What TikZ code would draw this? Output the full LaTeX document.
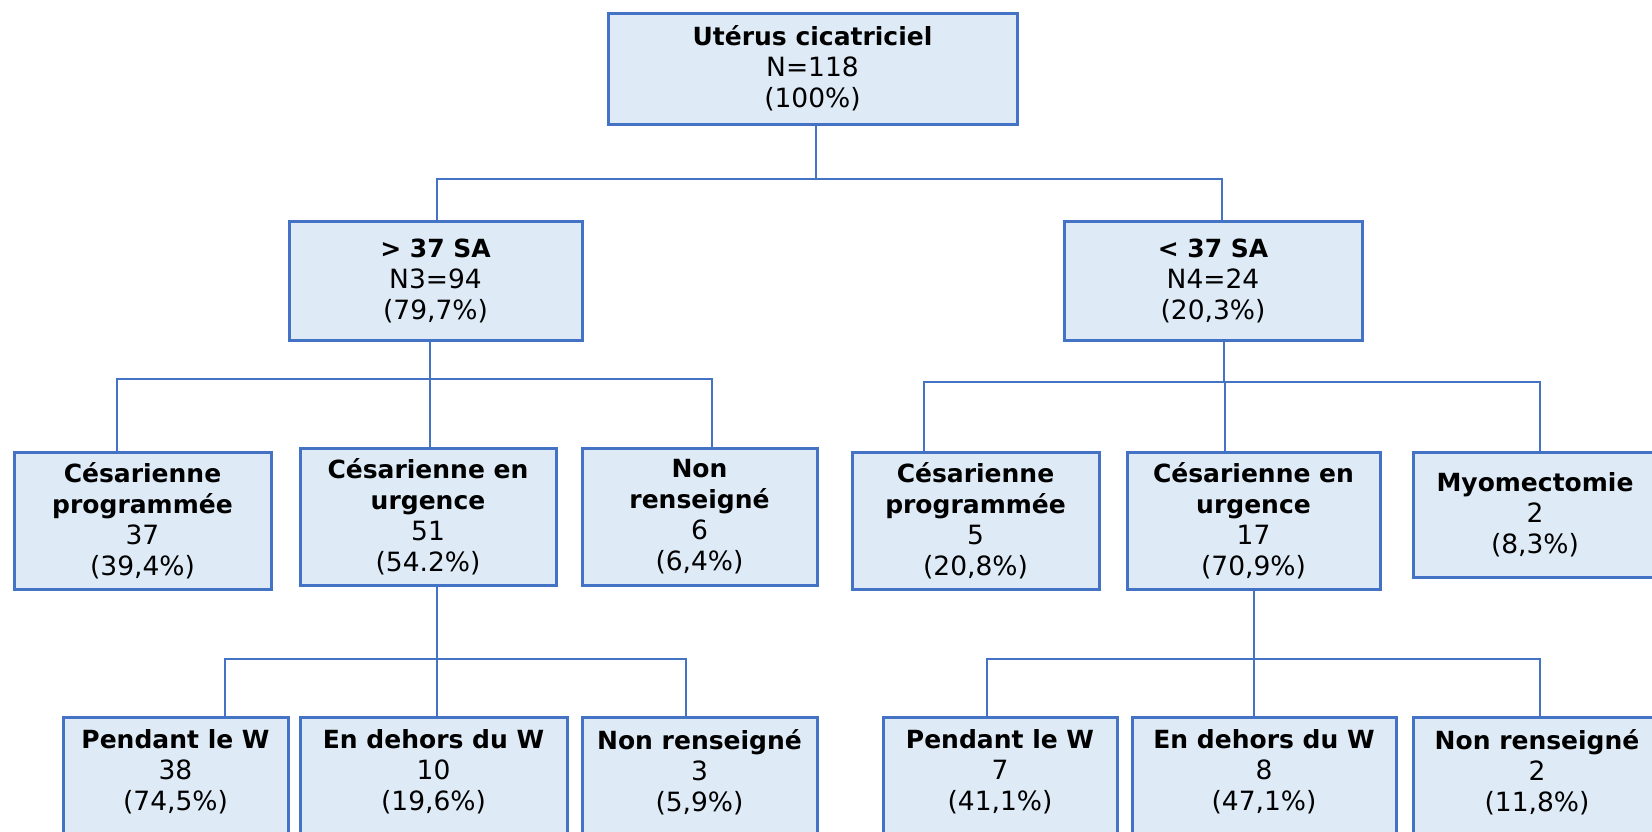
\documentclass[tikz,border=0pt]{standalone}
\usepackage{fontspec}
\setmainfont{DejaVu Sans}

\definecolor{boxline}{HTML}{4472C4}
\definecolor{boxfill}{HTML}{DEEBF7}

\newcommand{\hd}[1]{{\fontsize{12.5}{15.5}\selectfont\bfseries #1}}

\begin{document}
\begin{tikzpicture}[x=0.5pt, y=-0.5pt,
    box/.style={draw=boxline, fill=boxfill, line width=1.5pt, inner sep=0pt,
      align=center, font=\fontsize{13.25}{15.5}\selectfont},
    leaf/.style={box, anchor=north, inner ysep=6pt, text depth=60pt},
    link/.style={draw=boxline, line width=1pt}]

  \useasboundingbox (0,0) rectangle (1652,831) ;
  \clip (0,0) rectangle (1652,831) ;

  %
  \node (top) [box, minimum width=204.5pt, minimum height=55.5pt] at (812.5,68.5)
    {\hd{Utérus cicatriciel}\\N=118\\(100\%)} ;

  \node (ga) [box, minimum width=146.5pt, minimum height=59.5pt] at (435.5,280.5)
    {\hd{> 37 SA}\\N3=94\\(79,7\%)} ;

  \node (gb) [box, minimum width=149pt, minimum height=59.5pt] at (1213,280.5)
    {\hd{< 37 SA}\\N4=24\\(20,3\%)} ;

  \node (cpA) [box, minimum width=128.5pt, minimum height=68.5pt] at (142.5,520.5)
    {\hd{Césarienne}\\\hd{programmée}\\37\\(39,4\%)} ;

  \node (cuA) [box, minimum width=128pt, minimum height=68.5pt] at (428,516.5)
    {\hd{Césarienne en}\\\hd{urgence}\\51\\(54.2\%)} ;

  \node (nrA) [box, minimum width=117.5pt, minimum height=68.5pt] at (699.5,516.5)
    {\hd{Non}\\\hd{renseigné}\\6\\(6,4\%)} ;

  \node (cpB) [box, minimum width=123.5pt, minimum height=68.5pt] at (975.5,520.5)
    {\hd{Césarienne}\\\hd{programmée}\\5\\(20,8\%)} ;

  \node (cuB) [box, minimum width=126.5pt, minimum height=68.5pt] at (1253.5,520.5)
    {\hd{Césarienne en}\\\hd{urgence}\\17\\(70,9\%)} ;

  \node (myB) [box, minimum width=122pt, minimum height=62.5pt] at (1535,514.5)
    {\hd{Myomectomie}\\2\\(8,3\%)} ;

  \node (pwA) [leaf, minimum width=112.5pt] at (175.5,716)
    {\hd{Pendant le W}\\38\\(74,5\%)} ;

  \node (ewA) [leaf, minimum width=133.5pt] at (433.5,716)
    {\hd{En dehors du W}\\10\\(19,6\%)} ;

  \node (nwA) [leaf, minimum width=117.5pt] at (699.5,716)
    {\hd{Non renseigné}\\3\\(5,9\%)} ;

  \node (pwB) [leaf, minimum width=117pt] at (1000,716)
    {\hd{Pendant le W}\\7\\(41,1\%)} ;

  \node (ewB) [leaf, minimum width=132pt] at (1264,716)
    {\hd{En dehors du W}\\8\\(47,1\%)} ;

  \node (nwB) [leaf, minimum width=124pt] at (1537,716)
    {\hd{Non renseigné}\\2\\(11,8\%)} ;

  \draw [link] ([xshift=1.75pt]top.south) -- ++(0,53) -| ([xshift=0.75pt]ga.north) ;

  \draw [link] ([xshift=1.75pt]top.south) -- ++(0,53) -| ([xshift=4.5pt]gb.north) ;

  \draw [link] ([xshift=-2.75pt]ga.south) -- ++(0,37) -| ([xshift=-12.75pt]cpA.north) ;

  \draw [link] ([xshift=-2.75pt]ga.south) -- ++(0,37) -| ([xshift=1pt]cuA.north) ;

  \draw [link] ([xshift=-2.75pt]ga.south) -- ++(0,37) -| ([xshift=6.25pt]nrA.north) ;

  \draw [link] ([xshift=5.5pt]gb.south) -- ++(0,40) -| ([xshift=-25.75pt]cpB.north) ;

  \draw [link] ([xshift=5.5pt]gb.south) -- ++(0,40) -| ([xshift=-14.25pt]cuB.north) ;

  \draw [link] ([xshift=5.5pt]gb.south) -- ++(0,40) -| ([xshift=2.5pt]myB.north) ;

  \draw [link] ([xshift=4.5pt]cuA.south) -- ++(0,72) -| ([xshift=24.75pt]pwA.north) ;

  \draw [link] ([xshift=4.5pt]cuA.south) -- ++(0,72) -| ([xshift=1.75pt]ewA.north) ;

  \draw [link] ([xshift=4.5pt]cuA.south) -- ++(0,72) -| ([xshift=-6.75pt]nwA.north) ;

  \draw [link] (cuB.south) -- ++(0,68) -| ([xshift=-6.5pt]pwB.north) ;

  \draw [link] (cuB.south) -- ++(0,68) -| ([xshift=-5pt]ewB.north) ;

  \draw [link] (cuB.south) -- ++(0,68) -| ([xshift=1.5pt]nwB.north) ;

\end{tikzpicture}
\end{document}
